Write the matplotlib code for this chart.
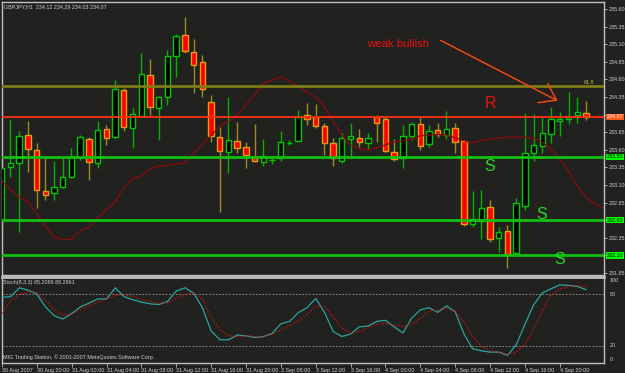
import matplotlib
matplotlib.use("Agg")
import matplotlib.pyplot as plt
import matplotlib.transforms as mtransforms
from matplotlib.patches import Rectangle, FancyArrowPatch

# ---------------- data ----------------
chart_title = "GBPJPY,H1  234.12 234.29 234.03 234.07"
stoch_title = "Stoch(8,3,3) 85.2088 88.2861"
copyright_text = "MIG Trading Station, \u00a9 2001-2007 MetaQuotes Software Corp."
note_text = "weak bulilsh"

opens = [232.62, 233.36, 233.41, 233.81, 233.60, 233.02, 232.99, 233.07, 233.21, 233.50,
         233.75, 233.41, 233.90, 233.78, 234.45, 233.91, 234.08, 234.66, 234.19, 234.35,
         234.93, 235.23, 234.99, 234.85, 234.28, 233.78, 233.57, 233.73, 233.64, 233.50,
         233.43, 233.46, 233.48, 233.70, 233.73, 234.09, 234.07, 233.94, 233.70, 233.44,
         233.75, 233.77, 233.70, 234.07, 234.04, 233.57, 233.48, 233.80, 233.97, 233.68,
         233.88, 233.81, 233.91, 233.73, 232.55, 232.59, 232.79, 232.35, 232.45, 232.13,
         232.80, 233.55, 233.65, 233.82, 234.01, 234.04, 234.09, 234.12]
highs = [233.46, 234.04, 233.87, 234.01, 233.70, 233.48, 233.44, 233.50, 233.63, 233.81,
         233.78, 234.01, 233.95, 234.59, 234.48, 234.19, 234.98, 234.89, 234.37, 235.02,
         235.24, 235.49, 235.17, 234.95, 234.38, 233.92, 234.35, 234.00, 233.71, 233.97,
         233.75, 233.51, 233.87, 233.74, 234.17, 234.27, 234.25, 233.98, 233.77, 233.84,
         233.98, 233.90, 233.84, 234.09, 234.07, 233.75, 233.95, 234.00, 234.07, 233.95,
         233.98, 234.15, 233.98, 233.74, 233.02, 233.03, 232.89, 232.50, 232.53, 232.92,
         234.12, 234.11, 234.07, 234.21, 234.14, 234.42, 234.35, 234.29]
lows = [232.39, 233.21, 232.43, 233.29, 232.77, 232.89, 232.89, 233.06, 233.20, 233.46,
        233.17, 233.34, 233.67, 233.77, 233.87, 233.63, 234.07, 234.09, 233.74, 234.24,
        234.63, 234.98, 234.41, 234.35, 233.71, 232.72, 233.27, 233.55, 233.34, 233.43,
        233.37, 233.40, 233.44, 233.67, 233.72, 233.95, 233.91, 233.53, 233.37, 233.41,
        233.48, 233.64, 233.61, 233.71, 233.57, 233.44, 233.34, 233.74, 233.60, 233.64,
        233.78, 233.75, 233.55, 232.52, 232.50, 232.33, 232.29, 232.15, 231.92, 232.12,
        232.75, 233.44, 233.55, 233.70, 233.80, 233.97, 233.98, 234.03]
closes = [233.34, 233.41, 233.80, 233.61, 233.03, 232.96, 233.07, 233.21, 233.50, 233.78,
          233.43, 233.88, 233.77, 234.46, 233.92, 234.11, 234.68, 234.21, 234.35, 234.93,
          235.22, 235.00, 234.81, 234.46, 233.80, 233.58, 233.74, 233.63, 233.53, 233.44,
          233.51, 233.46, 233.71, 233.70, 234.07, 234.04, 233.94, 233.70, 233.48, 233.77,
          233.80, 233.71, 233.77, 233.98, 233.58, 233.47, 233.80, 233.97, 233.65, 233.87,
          233.82, 233.90, 233.71, 232.55, 232.62, 232.77, 232.33, 232.43, 232.12, 232.84,
          233.55, 233.67, 233.84, 234.04, 234.04, 234.07, 234.14, 234.07]

moving_avg = [233.16, 233.04, 232.93, 232.86, 232.70, 232.52, 232.36, 232.32, 232.33, 232.45,
              232.50, 232.63, 232.75, 232.86, 233.06, 233.19, 233.23, 233.33, 233.37, 233.38,
              233.40, 233.41, 233.55, 233.68, 233.80, 233.94, 234.00, 234.09, 234.24, 234.38,
              234.54, 234.59, 234.63, 234.59, 234.49, 234.42, 234.35, 234.21, 234.00, 233.81,
              233.67, 233.61, 233.60, 233.63, 233.67, 233.71, 233.73, 233.75, 233.80, 233.81,
              233.82, 233.81, 233.77, 233.73, 233.70, 233.73, 233.75, 233.77, 233.78, 233.78,
              233.78, 233.77, 233.71, 233.61, 233.47, 233.30, 233.09, 232.93, 232.83, 232.77]

stoch_main = [76.2, 77.2, 87.4, 84.6, 80.0, 65.1, 54.9, 51.1, 57.6, 65.1,
              69.7, 74.4, 74.4, 87.4, 77.2, 73.5, 70.7, 68.8, 67.9, 71.6,
              83.7, 87.4, 80.9, 64.2, 37.2, 27.0, 27.0, 32.5, 31.6, 29.7,
              30.7, 34.4, 45.6, 48.3, 58.6, 64.2, 75.0, 58.9, 36.6, 30.8,
              33.6, 42.0, 42.9, 48.4, 49.6, 42.0, 35.0, 52.1, 61.8, 64.2,
              58.9, 66.4, 59.5, 33.9, 16.5, 14.2, 12.7, 12.7, 8.9, 21.1,
              45.0, 67.6, 81.5, 86.2, 90.8, 90.2, 89.0, 85.2]
stoch_signal = [57.6, 72.5, 80.0, 82.8, 81.8, 72.5, 61.4, 55.8, 56.7, 61.4,
                67.0, 70.7, 74.4, 79.0, 79.0, 77.2, 73.5, 71.6, 69.7, 69.7,
                75.3, 80.0, 80.9, 74.4, 52.0, 39.0, 31.6, 30.7, 31.6, 30.7,
                30.7, 33.5, 38.1, 43.7, 49.3, 55.8, 66.0, 65.5, 53.0, 40.5,
                34.5, 36.5, 41.0, 45.2, 46.1, 44.0, 42.6, 45.0, 51.5, 60.2,
                61.8, 63.6, 60.5, 48.0, 31.5, 19.5, 14.5, 12.4, 10.3, 12.5,
                21.0, 40.0, 60.5, 78.5, 86.0, 89.0, 90.0, 88.3]

support_levels = [233.50, 232.60, 232.10]
support_labels = ["233.50", "232.60", "232.10"]
resistance_level = 234.07
resistance_label = "234.07"
fib_level = 234.50
fib_label = "61.8"

price_ticks = [235.60, 235.35, 235.10, 234.85, 234.60, 234.35, 234.10, 233.85,
               233.60, 233.35, 233.10, 232.85, 232.60, 232.35, 232.10, 231.85]
price_tick_labels = ["235.60", "235.35", "235.10", "234.85", "234.60", "234.35", "", "233.85",
                     "233.60", "233.35", "233.10", "232.85", "", "232.35", "", "231.85"]
stoch_levels = [80, 20]
stoch_tick_vals = [100, 80, 20, 0]

time_label_bars = [0, 4, 8, 12, 16, 20, 24, 28, 32, 36, 40, 44, 48, 52, 56, 60, 64]
time_labels = ["30 Aug 2007", "30 Aug 20:00", "31 Aug 00:00", "31 Aug 04:00", "31 Aug 08:00",
               "31 Aug 12:00", "31 Aug 16:00", "31 Aug 20:00", "3 Sep 08:00", "3 Sep 12:00",
               "3 Sep 16:00", "4 Sep 00:00", "4 Sep 04:00", "4 Sep 08:00", "4 Sep 12:00",
               "4 Sep 16:00", "4 Sep 20:00"]

# ---------------- style ----------------
W, H = 625, 373
BG = "#21211f"
FRAME = "#c0c0c0"
TXT = "#d0d0d0"
SMALL = ["Liberation Sans", "DejaVu Sans"]
BIG = ["Liberation Sans", "DejaVu Sans"]
sfs = 3.9

fig = plt.figure(figsize=(W / 100, H / 100), dpi=100)
fig.patch.set_facecolor(BG)


def fx(px):
    return px / W


def fy(py):
    return 1 - py / H


ax = fig.add_axes([fx(2), fy(275), fx(604) - fx(2), fy(2) - fy(275)])
ax2 = fig.add_axes([fx(2), fy(363.2), fx(604) - fx(2), fy(277.1) - fy(363.2)])

bar_px0, bar_dx = 1.7, 8.72
xlim = ((2 - bar_px0) / bar_dx, (604 - bar_px0) / bar_dx)

for a in (ax, ax2):
    a.set_facecolor(BG)
    a.set_xlim(*xlim)
    for s in a.spines.values():
        s.set_color(FRAME)
        s.set_linewidth(1.0)

ax.set_ylim(231.822, 235.700)
ax2.set_ylim(-0.2, 99.8)

# candles
bw = 0.62
for i, (o, h, l, c) in enumerate(zip(opens, highs, lows, closes)):
    if c < o:
        wick, edge, face = "#9c8c1c", "#e0a010", "#ff0000"
    else:
        wick, edge, face = "#00b400", "#00c800", "#000000"
    ax.vlines(i, l, h, color=wick, lw=1.0, zorder=2)
    if c == o:
        ax.hlines(o, i - bw / 2, i + bw / 2, color=edge, lw=1.0, zorder=3)
    else:
        ax.add_patch(Rectangle((i - bw / 2, min(o, c)), bw, abs(c - o),
                               facecolor=face, edgecolor=edge, lw=1.0, zorder=3))

# moving average
ax.plot(range(len(moving_avg)), moving_avg, color="#8b0a0a", lw=0.9, zorder=4)

# horizontal levels
ax.axhline(fib_level, color="#7d7d14", lw=2.0, zorder=5)
ax.axhline(resistance_level, color="#ff3010", lw=1.3, zorder=5)
for lv in support_levels:
    ax.axhline(lv, color="#10c010", lw=2.0, zorder=5)

# right price axis
ax.yaxis.tick_right()
ax.set_yticks(price_ticks)
ax.set_yticklabels(price_tick_labels)
ax.tick_params(axis="y", colors=FRAME, labelcolor=TXT, length=2, width=0.6, pad=1.5,
               labelsize=sfs)
for t in ax.get_yticklabels():
    t.set_family(SMALL)
ax.set_xticks([])

blend = mtransforms.blended_transform_factory(ax.transAxes, ax.transData)
for lv, lab in zip(support_levels, support_labels):
    ax.text(1.0045, lv, lab, transform=blend, ha="left", va="center", fontsize=sfs,
            family=SMALL, color="#000000", zorder=10, clip_on=False,
            bbox=dict(facecolor="#00ff00", edgecolor="none", pad=0.5))
ax.text(1.0045, resistance_level, resistance_label, transform=blend, ha="left", va="center",
        fontsize=sfs, family=SMALL, color="#ffffff", zorder=10, clip_on=False,
        bbox=dict(facecolor="#ff5a1a", edgecolor="none", pad=0.5))
ax.text(0.967, fib_level + 0.05, fib_label, transform=blend, ha="left", va="center",
        fontsize=sfs, family=SMALL, color="#c8c832", zorder=10)

# stochastic
ax2.plot(range(len(stoch_main)), stoch_main, color="#2aa6a0", lw=0.9, zorder=4)
ax2.plot(range(len(stoch_signal)), stoch_signal, color="#e01010", lw=0.9,
         linestyle=(0, (1, 1.5)), zorder=4)
for lv in stoch_levels:
    ax2.axhline(lv, color="#a0a0a0", lw=0.6, linestyle=(0, (2, 2)), zorder=3)
ax2.set_yticks([])
blend2 = mtransforms.blended_transform_factory(ax2.transAxes, ax2.transData)
for v in stoch_tick_vals:
    yy = min(max(v, 4), 96)
    ax2.text(1.01, yy, str(v), transform=blend2, ha="left", va="center", fontsize=sfs,
             family=SMALL, color=TXT, clip_on=False)
ax2.set_xticks(time_label_bars)
ax2.set_xticklabels(time_labels, ha="left", family=SMALL, fontsize=sfs, color=TXT)
ax2.tick_params(axis="x", colors=FRAME, labelcolor=TXT, length=3, width=0.6, pad=0.8)
ax2.spines["top"].set_linewidth(2.0)

# texts
fig.text(fx(4), fy(7), chart_title, ha="left", va="center", fontsize=sfs, family=SMALL,
         color=TXT)
fig.text(fx(3), fy(282.5), stoch_title, ha="left", va="center", fontsize=sfs, family=SMALL,
         color=TXT)
fig.text(fx(3), fy(357), copyright_text, ha="left", va="center", fontsize=sfs, family=SMALL,
         color=TXT)

fig.text(fx(367), fy(44), note_text, ha="left", va="center", fontsize=8.2, family=BIG,
         color="#ee1010")
fig.text(fx(491), fy(104), "R", ha="center", va="center", fontsize=11.5, family=BIG,
         color="#ee1010")
for (sx, sy) in [(490, 166), (542, 214), (560, 260)]:
    fig.text(fx(sx), fy(sy), "S", ha="center", va="center", fontsize=11.5, family=BIG,
             color="#22dd22")

arrow = FancyArrowPatch((438, H - 39), (560, H - 102), transform=None,
                        arrowstyle="->,head_length=5,head_width=3.5", color="#ff4a10",
                        lw=1.0, mutation_scale=2.2)
fig.patches.append(arrow)

fig.savefig("out.png", dpi=100, facecolor=BG)
